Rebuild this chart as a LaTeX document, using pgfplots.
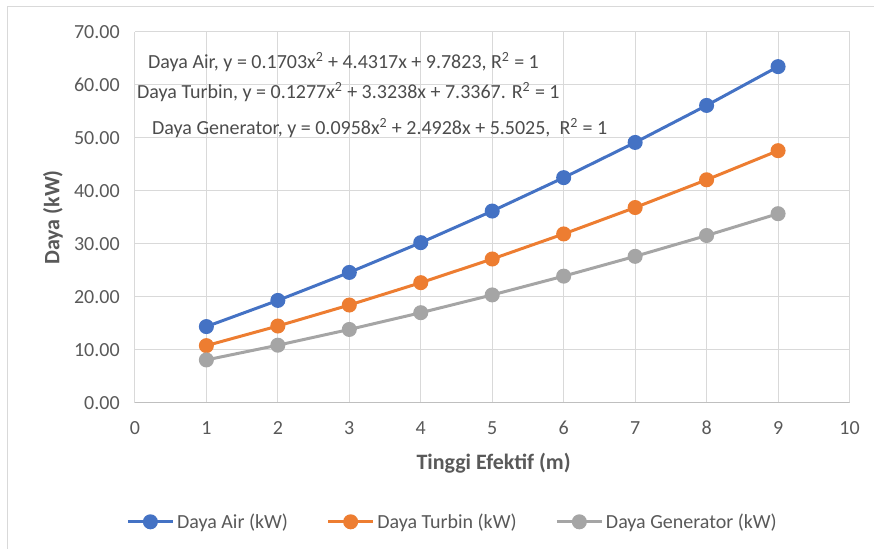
\documentclass[border=0pt]{standalone}
\usepackage{pgfplots}
\pgfplotsset{compat=1.18}
\usepackage{fontspec}
\setmainfont{Carlito}
\definecolor{cblue}{HTML}{4472C4}
\definecolor{corange}{HTML}{ED7D31}
\definecolor{cgray}{HTML}{A5A5A5}
\definecolor{txt}{HTML}{595959}
\definecolor{grd}{HTML}{D9D9D9}
\begin{document}
\begin{tikzpicture}
\path (0,0) rectangle (655.5pt,-411.75pt);
\draw[grd, line width=0.75pt] (6pt,-411.75pt) -- (6pt,-4.5pt) -- (655.5pt,-4.5pt);
\begin{axis}[
  at={(101.25pt,-302.25pt)}, anchor=south west,
  scale only axis, width=536.25pt, height=278.25pt,
  xmin=0, xmax=10, ymin=0, ymax=70,
  xtick={0,1,...,10}, ytick={0,10,...,70},
  grid=major, major grid style={grd, line width=0.75pt},
  axis line style={draw=none}, tick style={draw=none},
  tick label style={font=\fontsize{15}{18}\selectfont, text=txt, inner sep=0pt},
  /pgf/number format/assume math mode=true,
  xticklabel style={anchor=center, yshift=-19pt},
  yticklabel style={anchor=east, xshift=-11.25pt, /pgf/number format/fixed, /pgf/number format/fixed zerofill, /pgf/number format/precision=2},
  xlabel={Tinggi Efektif (m)}, ylabel={Daya (kW)},
  label style={font=\bfseries\fontsize{16.5}{19}\selectfont, text=txt},
  xlabel style={at={(axis description cs:0.502,-0.162)}, anchor=center},
  ylabel style={at={(axis description cs:-0.1147,0.5)}, anchor=center},
  legend columns=3,
  legend style={at={(axis description cs:0.445,-0.321)}, anchor=center, draw=none,
    font=\fontsize{15}{18}\selectfont, text=txt,
    /tikz/every even column/.append style={column sep=27pt}},
  legend image code/.code={\draw[mark repeat=2,mark phase=2,#1] plot coordinates {(0pt,0pt) (16.9pt,0pt) (33.75pt,0pt)};},
  every axis plot/.append style={line width=2.25pt, mark=*, mark size=4.5pt, mark options={line width=0pt}},
]
\addplot[cblue, mark options={fill=cblue, draw=cblue}] coordinates {
(1,14.384) (2,19.327) (3,24.610) (4,30.234) (5,36.198) (6,42.503) (7,49.149) (8,56.135) (9,63.462)};
\addplot[corange, mark options={fill=corange, draw=corange}] coordinates {
(1,10.788) (2,14.495) (3,18.457) (4,22.675) (5,27.148) (6,31.877) (7,36.861) (8,42.100) (9,47.595)};
\addplot[cgray, mark options={fill=cgray, draw=cgray}] coordinates {
(1,8.091) (2,10.871) (3,13.843) (4,17.007) (5,20.362) (6,23.908) (7,27.646) (8,31.576) (9,35.698)};
\draw[color=black!25, line width=0.75pt] (axis cs:0,0) -- (axis cs:10,0);
\legend{Daya Air (kW), Daya Turbin (kW), Daya Generator (kW)}
\end{axis}
\begin{scope}[every node/.style={anchor=west, inner sep=0pt, text=txt!85!black, font=\fontsize{15}{18}\selectfont}]
\node at (111pt,-46.5pt) {Daya Air, y = 0.1703x\textsuperscript{2} + 4.4317x + 9.7823, R\textsuperscript{2} = 1};
\node at (102.75pt,-69pt) {Daya Turbin, y = 0.1277x\textsuperscript{2} + 3.3238x + 7.3367. R\textsuperscript{2} = 1};
\node at (114pt,-96pt) {Daya Generator, y = 0.0958x\textsuperscript{2} + 2.4928x + 5.5025,\ \ R\textsuperscript{2} = 1};
\end{scope}
\end{tikzpicture}
\end{document}
